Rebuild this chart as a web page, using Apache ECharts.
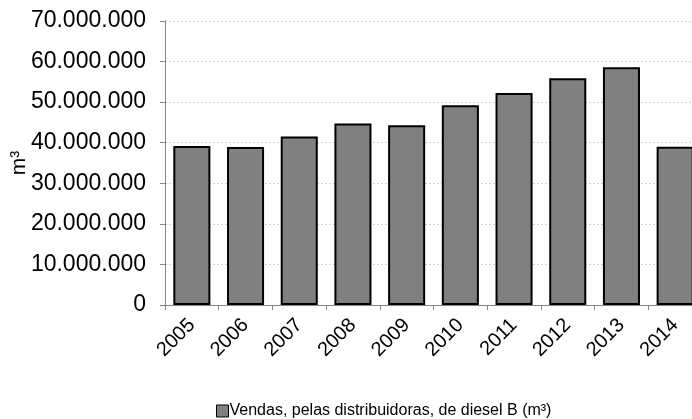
<!DOCTYPE html>
<html>
<head>
<meta charset="utf-8">
<script src="https://cdn.jsdelivr.net/npm/echarts@6/dist/echarts.min.js"></script>
<style>
html,body{margin:0;padding:0;background:#fff;}
#chart{width:692px;height:419px;}
</style>
</head>
<body>
<div id="chart"></div>
<script>
var categories = ['2005','2006','2007','2008','2009','2010','2011','2012','2013','2014'];
var seriesName = 'Vendas, pelas distribuidoras, de diesel B (m³)';
var values = [39170000, 38950000, 41560000, 44760000, 44300000, 49240000, 52260000, 55900000, 58570000, 39000000];
var yAxisName = 'm³';

function fmt(v){ return String(v).replace(/\B(?=(\d{3})+(?!\d))/g, '.'); }

var FONT = 'Liberation Sans, Arial, sans-serif';
var chart = echarts.init(document.getElementById('chart'), null, {renderer:'canvas'});
chart.setOption({
  animation: false,
  textStyle: {fontFamily: FONT},
  grid: {left: 165, width: 537, top: 21, height: 284, containLabel: false, outerBoundsMode: 'none'},
  legend: {
    top: 398, left: 211,
    itemWidth: 12, itemHeight: 12, itemGap: 4,
    icon: 'rect',
    textStyle: {fontSize: 16, color: '#000', fontFamily: FONT, padding: [0,0,0,-4]},
    data: [{name: seriesName, itemStyle: {color: '#808080', borderColor: '#000', borderWidth: 1}}]
  },
  xAxis: {
    type: 'category',
    data: categories,
    axisLine: {lineStyle: {color: '#868686', width: 1}},
    axisTick: {show: true, alignWithLabel: false, length: 5, lineStyle: {color: '#868686'}},
    axisLabel: {rotate: 45, fontSize: 20, color: '#000', margin: 17, fontFamily: FONT}
  },
  yAxis: {
    type: 'value',
    min: 0, max: 70000000, interval: 10000000,
    name: yAxisName,
    nameLocation: 'middle',
    nameRotate: 90,
    nameGap: 135,
    nameMoveOverlap: false,
    nameTextStyle: {fontSize: 21, color: '#000', fontFamily: FONT},
    axisLine: {show: true, lineStyle: {color: '#868686', width: 1}},
    axisTick: {show: true, length: 5, lineStyle: {color: '#868686'}},
    axisLabel: {fontSize: 23, color: '#000', margin: 19, formatter: fmt, fontFamily: FONT},
    splitLine: {show: true, lineStyle: {color: '#cfcfcf', type: [2,2], width: 1}}
  },
  series: [{
    name: seriesName,
    type: 'bar',
    data: values,
    barCategoryGap: '31%',
    itemStyle: {color: '#808080', borderColor: '#000', borderWidth: 2}
  }]
});
</script>
</body>
</html>
